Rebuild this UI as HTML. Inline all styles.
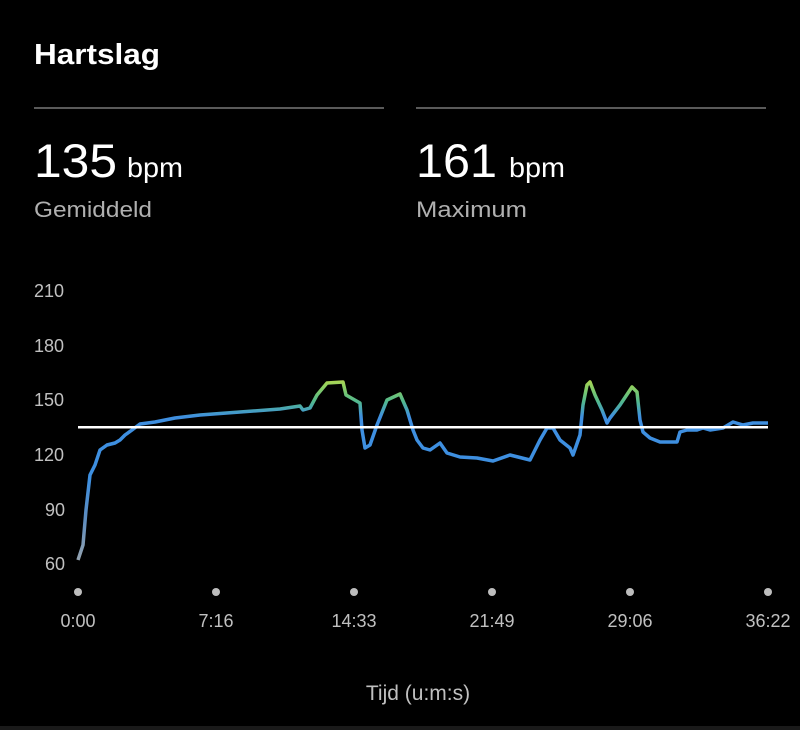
<!DOCTYPE html>
<html><head><style>
html,body{margin:0;padding:0;background:#000;}
svg{display:block;}
text{font-family:"Liberation Sans",sans-serif;}
</style></head><body>
<svg width="800" height="730" viewBox="0 0 800 730">
<defs>
<linearGradient id="g" gradientUnits="userSpaceOnUse" x1="0" y1="375" x2="0" y2="565">
<stop offset="0" stop-color="#c8d84a"/>
<stop offset="0.06" stop-color="#8fd060"/>
<stop offset="0.14" stop-color="#52b88e"/>
<stop offset="0.22" stop-color="#3f8fe0"/>
<stop offset="0.55" stop-color="#3d8fe0"/>
<stop offset="0.75" stop-color="#5c8cc0"/>
<stop offset="1" stop-color="#9aa5ae"/>
</linearGradient>
</defs>
<rect width="800" height="730" fill="#000"/>
<text x="34" y="64" fill="#fff" font-size="29" font-weight="bold" textLength="126" lengthAdjust="spacingAndGlyphs">Hartslag</text>
<rect x="34" y="107" width="350" height="2" fill="#5a5a5a"/>
<rect x="416" y="107" width="350" height="2" fill="#5a5a5a"/>
<text x="34" y="177" fill="#fff" font-size="47" textLength="83" lengthAdjust="spacingAndGlyphs">135</text>
<text x="127" y="177" fill="#fff" font-size="28" textLength="56" lengthAdjust="spacingAndGlyphs">bpm</text>
<text x="34" y="217" fill="#b0b0b0" font-size="22" textLength="118" lengthAdjust="spacingAndGlyphs">Gemiddeld</text>
<text x="416" y="177" fill="#fff" font-size="47" textLength="81" lengthAdjust="spacingAndGlyphs">161</text>
<text x="509" y="177" fill="#fff" font-size="28" textLength="56" lengthAdjust="spacingAndGlyphs">bpm</text>
<text x="416" y="217" fill="#b0b0b0" font-size="22" textLength="111" lengthAdjust="spacingAndGlyphs">Maximum</text>
<g fill="#c0c0c0" font-size="18">
<text x="34" y="297">210</text>
<text x="34" y="352">180</text>
<text x="34" y="406">150</text>
<text x="34" y="461">120</text>
<text x="45" y="516">90</text>
<text x="45" y="570">60</text>
</g>
<polyline fill="none" stroke="url(#g)" stroke-width="3.5" stroke-linejoin="round" points="78,560 83,545 86,510 90,475 95,465 100,450 107,445 115,443 120,440 125,435 132,430 140,424 155,422 175,418 200,415 240,412 280,409 300,406 303,410 310,408 317,395 327,383 343,382 346,395 360,403 362,430 365,448 370,445 377,425 387,400 400,394 407,410 413,430 417,440 423,448 430,450 440,443 447,453 460,457 477,458 493,461 510,455 530,460 540,440 547,428 553,428 560,440 570,448 573,455 580,435 583,405 587,385 590,382 595,395 602,410 607,423 610,418 620,405 632,387 637,392 640,420 643,432 650,438 660,442 677,442 680,432 687,430 697,430 703,428 710,430 723,428 733,422 743,425 753,423 768,423"/>
<rect x="78" y="426" width="690" height="2.5" fill="#fff"/>
<g fill="#bdbdbd">
<circle cx="78" cy="592" r="4"/><circle cx="216" cy="592" r="4"/><circle cx="354" cy="592" r="4"/>
<circle cx="492" cy="592" r="4"/><circle cx="630" cy="592" r="4"/><circle cx="768" cy="592" r="4"/>
</g>
<g fill="#c0c0c0" font-size="18" text-anchor="middle">
<text x="78" y="627">0:00</text><text x="216" y="627">7:16</text><text x="354" y="627">14:33</text>
<text x="492" y="627">21:49</text><text x="630" y="627">29:06</text><text x="768" y="627">36:22</text>
</g>
<text x="418" y="700" fill="#c0c0c0" font-size="21" text-anchor="middle">Tijd (u:m:s)</text>
<rect x="0" y="726" width="800" height="4" fill="#1a1a1a"/>
</svg>
</body></html>
